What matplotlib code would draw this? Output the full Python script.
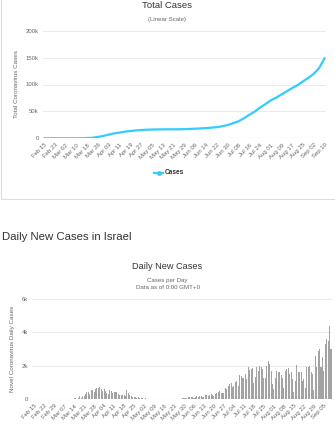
import datetime as dt
import numpy as np
import matplotlib
matplotlib.use("Agg")
import matplotlib.pyplot as plt
from matplotlib.patches import Rectangle

plt.rcParams['font.family'] = ['Liberation Sans', 'DejaVu Sans']

start = dt.date(2020, 2, 15)

# total cases (thousands), read every 4 days from Feb 15 to Sep 10
total_days = list(range(0, 209, 4))
total_k = [0, 0, 0.001, 0.003, 0.01, 0.02, 0.06, 0.16, 0.5, 1.1,
           2.7, 4.5, 7.0, 9.2, 10.7, 12.5, 13.5, 14.6, 15.4, 16.0,
           16.3, 16.5, 16.6, 16.7, 16.7, 16.8, 17.0, 17.4, 17.9, 18.4,
           19.0, 19.8, 20.8, 22.4, 24.7, 28.0, 31.5, 37.0, 43.5, 49.5,
           57.0, 63.5, 70.5, 75.5, 81.5, 87.5, 93.5, 99.0, 106.0, 112.5,
           120.0, 131.0, 149.0]

# daily new cases, Feb 15 .. Sep 10
feb = [0, 0, 0, 0, 0, 0, 1, 0, 0, 0, 0, 0, 1, 0, 1]
mar = [2, 0, 3, 2, 5, 4, 6, 10, 12, 20, 15, 30, 30, 50, 70, 40,
       100, 220, 100, 200, 170, 300, 450, 420, 300, 580, 550, 460,
       600, 650, 700]
apr = [740, 600, 480, 590, 520, 400, 300, 550, 470, 350, 430, 420,
       450, 300, 250, 250, 230, 250, 200, 550, 350, 260, 200, 120,
       140, 120, 100, 110, 80, 70]
may = [60, 40, 50, 20, 40, 30, 20, 15, 10, 15, 20, 10, 25, 15, 20,
       10, 15, 20, 25, 15, 20, 10, 20, 25, 20, 30, 25, 40, 60, 80, 60]
jun = [100, 110, 120, 140, 130, 100, 150, 170, 130, 180, 220, 140,
       110, 260, 250, 180, 280, 300, 260, 200, 330, 380, 450, 520,
       400, 380, 350, 650, 600, 780]
jul = [920, 1000, 750, 800, 1050, 1100, 780, 1450, 1400, 1300, 1250,
       1500, 1200, 1950, 1750, 1800, 1850, 950, 1350, 1900, 1700, 2000,
       1950, 1800, 1250, 1300, 2000, 2300, 2100, 1700, 900]
aug = [600, 1250, 1700, 1650, 1600, 1450, 1300, 650, 1700, 1800, 1850,
       1500, 1600, 1200, 450, 1100, 2050, 1600, 1650, 1600, 1100, 1200,
       700, 1900, 1950, 2000, 1600, 1500, 550, 2600, 1900]
sep = [2900, 3000, 1950, 2500, 1700, 3300, 3600, 3500, 4400, 3000]
daily = feb + mar + apr + may + jun + jul + aug + sep

def lab(d):
    return (start + dt.timedelta(days=d)).strftime('%b %d')

fig = plt.figure(figsize=(3.35, 4.26), dpi=100)
W, H = 335, 426

def fx(px):
    return px / W

def fy(py):
    return 1 - py / H

grid_c = '#e6e6e6'
tick_c = '#666666'

# border of the top widget
fig.patches.append(Rectangle((fx(1), fy(199)), fx(340), fy(0) - fy(199) + 0.01,
                             transform=fig.transFigure, fill=False,
                             edgecolor='#dddddd', lw=0.8))

# ---- Total cases ----
ax1 = fig.add_axes([fx(43), fy(138.3), fx(326) - fx(43), fy(30.7) - fy(138.3)])
ax1.plot(total_days, total_k, color='#33ccff', lw=1.6, solid_capstyle='round')
ax1.set_xlim(-1, 209)
ax1.set_ylim(0, 200)
ax1.set_yticks([0, 50, 100, 150, 200])
ax1.set_yticklabels(['0', '50k', '100k', '150k', '200k'])
xt1 = list(range(0, 209, 8))
ax1.set_xticks(xt1)
ax1.set_xticklabels([lab(d) for d in xt1], rotation=45, ha='right',
                    rotation_mode='anchor')
ax1.set_ylabel('Total Coronavirus Cases', fontsize=4.5, color=tick_c, labelpad=5)

fig.text(0.5, fy(5), 'Total Cases', ha='center', va='center', fontsize=6.8, color='#333333')
fig.text(0.5, fy(19.5), '(Linear Scale)', ha='center', va='center', fontsize=4.4, color=tick_c)
fig.lines.append(plt.Line2D([fx(154), fx(163)], [fy(173), fy(173)], transform=fig.transFigure,
                            color='#33ccff', lw=1.6))
fig.lines.append(plt.Line2D([fx(158.5)], [fy(173)], transform=fig.transFigure,
                            color='#33ccff', marker='o', ms=2.5))
fig.text(fx(165), fy(173), 'Cases', ha='left', va='center', fontsize=4.7,
         color='#333333', fontweight='bold')

# ---- Daily new cases ----
fig.text(fx(2), fy(237), 'Daily New Cases in Israel', ha='left', va='center',
         fontsize=8.2, color='#333333')
fig.text(0.5, fy(266.5), 'Daily New Cases', ha='center', va='center', fontsize=6.6, color='#333333')
fig.text(0.5, fy(280.5), 'Cases per Day', ha='center', va='center', fontsize=4.4, color=tick_c)
fig.text(0.5, fy(287.5), 'Data as of 0:00 GMT+0', ha='center', va='center', fontsize=4.4, color=tick_c)

ax2 = fig.add_axes([fx(32), fy(399.3), fx(332) - fx(32), fy(298.7) - fy(399.3)])
ax2.bar(range(len(daily)), daily, width=0.72, color='#a3a3a3', edgecolor='none')
ax2.set_xlim(-1.5, len(daily) - 0.3)
ax2.set_ylim(0, 6000)
ax2.set_yticks([0, 2000, 4000, 6000])
ax2.set_yticklabels(['0', '2k', '4k', '6k'])
xt2 = list(range(0, 204, 7))
ax2.set_xticks(xt2)
ax2.set_xticklabels([lab(d) for d in xt2], rotation=45, ha='right',
                    rotation_mode='anchor')
ax2.set_ylabel('Novel Coronavirus Daily Cases', fontsize=4.5, color=tick_c, labelpad=5)

for ax in (ax1, ax2):
    for s in ax.spines.values():
        s.set_visible(False)
    ax.grid(axis='y', color=grid_c, lw=0.6)
    ax.set_axisbelow(True)
    ax.axhline(0, color='#ccd6eb', lw=0.8, zorder=0.5)
    ax.tick_params(axis='both', length=0, labelsize=4.3, colors=tick_c, pad=3)
    ax.set_facecolor('none')

fig.savefig('out.png', dpi=100)
